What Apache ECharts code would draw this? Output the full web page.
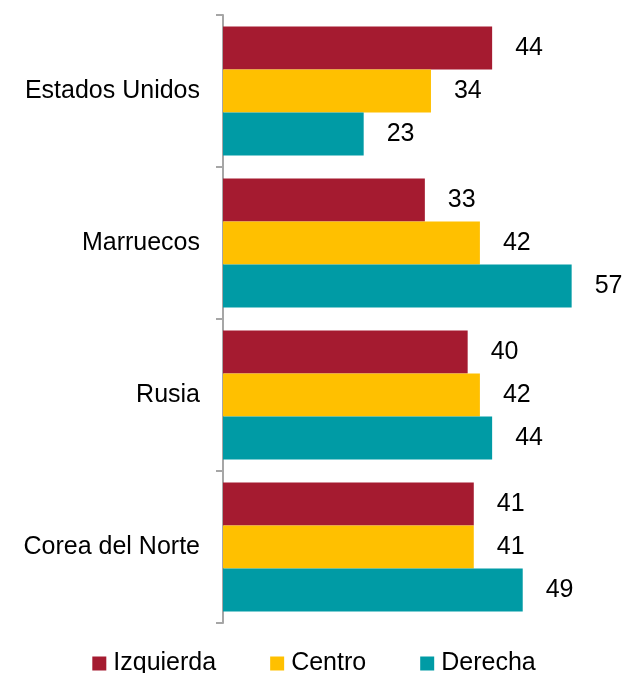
<!DOCTYPE html>
<html>
<head>
<meta charset="utf-8">
<script src="https://cdn.jsdelivr.net/npm/echarts@6/dist/echarts.min.js"></script>
<style>
html, body { margin: 0; padding: 0; background: #fff; }
#myChart { width: 628px; height: 673px; }
</style>
</head>
<body>
<div id="myChart"></div>
<script>
var categories = ['Estados Unidos', 'Marruecos', 'Rusia', 'Corea del Norte'];
var izquierda = [44, 33, 40, 41];
var centro = [34, 42, 42, 41];
var derecha = [23, 57, 44, 49];

window.onload = function () {
	'use strict';

	var font = 'Liberation Sans, Arial, sans-serif';
	var label = {
		show: true,
		position: 'right',
		distance: 23,
		color: '#000',
		fontSize: 25,
		fontFamily: font
	};

	function bar(name, data, color) {
		return {
			name: name,
			type: 'bar',
			data: data,
			barGap: '0%',
			barCategoryGap: '15%',
			itemStyle: {color: color},
			label: label,
			animation: false
		};
	}

	var option = {
		grid: {left: 223, right: 38, top: 15, bottom: 50},
		legend: {
			top: 646,
			left: 'center',
			itemWidth: 14,
			itemHeight: 14,
			itemGap: 54,
			icon: 'rect',
			textStyle: {color: '#000', fontSize: 25, fontFamily: font, padding: [0, 0, 0, 2]}
		},
		xAxis: {
			type: 'value',
			min: 0,
			max: 60,
			show: false
		},
		yAxis: {
			type: 'category',
			data: categories,
			inverse: true,
			axisLine: {show: true, lineStyle: {color: '#a6a6a6', width: 2}},
			axisTick: {show: true, inside: false, length: 7, lineStyle: {color: '#a6a6a6', width: 2}},
			axisLabel: {color: '#000', fontSize: 25, fontFamily: font, margin: 23}
		},
		series: [
			bar('Izquierda', izquierda, '#a51b30'),
			bar('Centro', centro, '#ffc000'),
			bar('Derecha', derecha, '#009ba5')
		]
	};

	var myChart = echarts.init(document.getElementById('myChart'));
	myChart.setOption(option);
};
</script>
</body>
</html>
